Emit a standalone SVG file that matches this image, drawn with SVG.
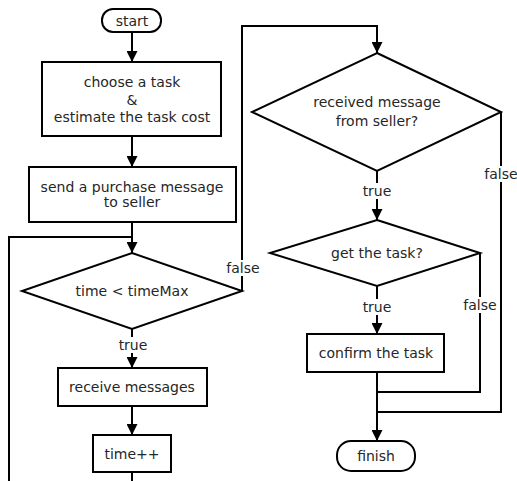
<svg xmlns="http://www.w3.org/2000/svg" width="517" height="481" viewBox="0 0 517 481">
<defs>
<marker id="arr" viewBox="0 0 10 10" refX="10" refY="5" markerWidth="11" markerHeight="11" markerUnits="userSpaceOnUse" orient="auto">
<path d="M0,0 L10,5 L0,10 Z" fill="#000"/>
</marker>
</defs>
<style>
.n{fill:#fff;stroke:#000;stroke-width:2}
.c{fill:none;stroke:#000;stroke-width:2}
text{font-family:"DejaVu Sans",sans-serif;font-size:14px;fill:#262626;text-anchor:middle}
.lbl{fill:#fff;stroke:none}
</style>
<rect width="517" height="481" fill="#fff"/>
<g id="connectors">
<path class="c" d="M132,32 V62" marker-end="url(#arr)"/>
<path class="c" d="M132,136 V167" marker-end="url(#arr)"/>
<path class="c" d="M132,222 V253" marker-end="url(#arr)"/>
<path class="c" d="M9,481 V237 H132"/>
<path class="c" d="M132,329 V368" marker-end="url(#arr)"/>
<path class="c" d="M132,406 V435" marker-end="url(#arr)"/>
<path class="c" d="M132,472 V481"/>
<path class="c" d="M242,291 V26 H377 V53" marker-end="url(#arr)"/>
<path class="c" d="M377,171 V220" marker-end="url(#arr)"/>
<path class="c" d="M377,286 V334" marker-end="url(#arr)"/>
<path class="c" d="M377,372 V441" marker-end="url(#arr)"/>
<path class="c" d="M480,253 V392 H377"/>
<path class="c" d="M501,112 V412 H377"/>
<rect class="lbl" x="224" y="260" width="38" height="16"/>
<text x="243" y="273">false</text>
<rect class="lbl" x="116" y="337" width="34" height="16"/>
<text x="133" y="350">true</text>
<rect class="lbl" x="360" y="183" width="34" height="16"/>
<text x="377" y="196">true</text>
<rect class="lbl" x="482" y="166" width="35" height="16"/>
<text x="501" y="179">false</text>
<rect class="lbl" x="360" y="299" width="34" height="16"/>
<text x="377" y="312">true</text>
<rect class="lbl" x="461" y="297" width="38" height="16"/>
<text x="480" y="310">false</text>
</g>
<g id="start">
<rect class="n" x="102" y="9" width="59" height="23" rx="11" ry="11"/>
<text x="132" y="26">start</text>
</g>
<g id="choose">
<rect class="n" x="42" y="62" width="179" height="74"/>
<text x="132" y="87">choose a task</text>
<text x="132" y="105">&amp;</text>
<text x="132" y="122">estimate the task cost</text>
</g>
<g id="send">
<rect class="n" x="29" y="167" width="207" height="55"/>
<text x="132" y="192">send a purchase message</text>
<text x="132" y="207">to seller</text>
</g>
<g id="timecheck">
<polygon class="n" points="132,253 242,291 132,329 22,291"/>
<text x="132" y="296">time &lt; timeMax</text>
</g>
<g id="receive">
<rect class="n" x="58" y="368" width="149" height="38"/>
<text x="132" y="392">receive messages</text>
</g>
<g id="inc">
<rect class="n" x="93" y="435" width="78" height="37"/>
<text x="132" y="459">time++</text>
</g>
<g id="received">
<polygon class="n" points="377,53 501,112 377,171 252,112"/>
<text x="377" y="107">received message</text>
<text x="377" y="126">from seller?</text>
</g>
<g id="gettask">
<polygon class="n" points="377,220 480,253 377,286 270,253"/>
<text x="377" y="258">get the task?</text>
</g>
<g id="confirm">
<rect class="n" x="307" y="334" width="137" height="38"/>
<text x="376" y="358">confirm the task</text>
</g>
<g id="finish">
<rect class="n" x="337" y="441" width="78" height="30" rx="14" ry="14"/>
<text x="376" y="461">finish</text>
</g>
</svg>
